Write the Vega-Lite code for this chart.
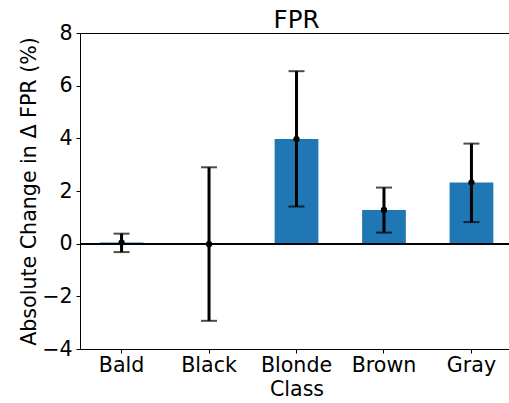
{
  "$schema": "https://vega.github.io/schema/vega-lite/v6.json",
  "width": 433,
  "height": 316,
  "autosize": {"type": "none"},
  "padding": {"left": 80, "top": 33, "right": 0, "bottom": 54},
  "title": {"text": "FPR", "fontSize": 24.5, "font": "DejaVu Sans", "fontWeight": "normal", "offset": 0, "dy": 10, "color": "black"},
  "data": {
    "values": [
      {"Class": "Bald", "value": 0.04, "lower": -0.32, "upper": 0.38},
      {"Class": "Black", "value": -0.02, "lower": -2.93, "upper": 2.9},
      {"Class": "Blonde", "value": 3.97, "lower": 1.41, "upper": 6.55},
      {"Class": "Brown", "value": 1.28, "lower": 0.42, "upper": 2.13},
      {"Class": "Gray", "value": 2.32, "lower": 0.82, "upper": 3.8}
    ]
  },
  "encoding": {
    "x": {
      "field": "Class",
      "type": "nominal",
      "scale": {"paddingInner": 0.5, "paddingOuter": 0.225},
      "axis": {"labelAngle": 0, "title": "Class", "titlePadding": 3, "labelPadding": 2.5}
    }
  },
  "layer": [
    {
      "mark": {"type": "bar", "color": "#1f77b4"},
      "encoding": {
        "y": {
          "field": "value",
          "type": "quantitative",
          "scale": {"domain": [-4, 8], "nice": false, "zero": false},
          "axis": {"values": [-4, -2, 0, 2, 4, 6, 8], "title": "Absolute Change in Δ FPR (%)", "titlePadding": 2, "labelPadding": 4}
        }
      }
    },
    {
      "mark": {"type": "rule", "color": "black", "strokeWidth": 1.5},
      "encoding": {"y": {"datum": 0}, "x": {"value": 0}, "x2": {"value": 433}}
    },
    {
      "mark": {"type": "rule", "color": "black", "strokeWidth": 3},
      "encoding": {
        "y": {"field": "lower", "type": "quantitative"},
        "y2": {"field": "upper"}
      }
    },
    {
      "mark": {"type": "tick", "color": "black", "size": 16, "thickness": 2},
      "encoding": {"y": {"field": "lower", "type": "quantitative"}}
    },
    {
      "mark": {"type": "tick", "color": "black", "size": 16, "thickness": 2},
      "encoding": {"y": {"field": "upper", "type": "quantitative"}}
    },
    {
      "mark": {"type": "point", "filled": true, "color": "black", "size": 40, "opacity": 1},
      "encoding": {"y": {"field": "value", "type": "quantitative"}}
    }
  ],
  "config": {
    "font": "DejaVu Sans",
    "view": {"stroke": "black", "strokeWidth": 1},
    "axis": {
      "grid": false,
      "domain": false,
      "labelFont": "DejaVu Sans",
      "titleFont": "DejaVu Sans",
      "labelFontSize": 20.6,
      "titleFontSize": 20.6,
      "titleFontWeight": "normal",
      "labelColor": "black",
      "titleColor": "black",
      "tickColor": "black",
      "tickSize": 4,
      "tickWidth": 1
    }
  }
}
